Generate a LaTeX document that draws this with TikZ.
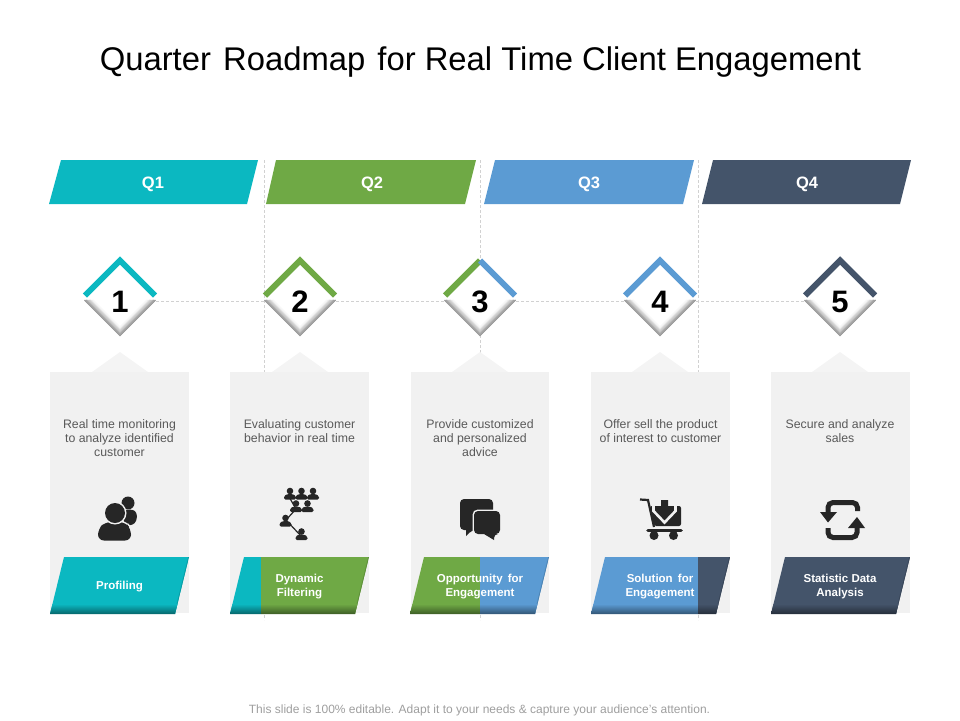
\documentclass[tikz,border=0pt]{standalone}
\usepackage{fontspec}
\setmainfont{Liberation Sans}
\usetikzlibrary{shapes.geometric}

\definecolor{tealq}{HTML}{0BB8C1}
\definecolor{greenq}{HTML}{6FA945}
\definecolor{blueq}{HTML}{5B9BD3}
\definecolor{navyq}{HTML}{44546A}
\definecolor{cardgray}{HTML}{F1F1F1}
\definecolor{icongray}{HTML}{262626}
\definecolor{bodygray}{HTML}{595959}

\tikzset{
    guide/.style={draw=black!18, line width=0.7pt, dash pattern=on 3pt off 2pt},
    qlabel/.style={text=white, font=\bfseries\fontsize{16.5}{20}\selectfont},
    numbox/.style={diamond, minimum size=72pt, inner sep=0pt, font=\bfseries\fontsize{31}{36}\selectfont},
    cardtext/.style={text=bodygray, align=center, font=\fontsize{12.3}{14}\selectfont},
    ribbontext/.style={text=white, align=center, font=\bfseries\fontsize{11.5}{14}\selectfont},
    chevron/.style={line width=6pt, line join=miter},
    halo/.style={preaction={draw=cardgray, line width=3pt}},
}

% left edge, left colour, right colour and where they meet
\newcommand{\ribbon}[4]{
    \begin{scope}
        \clip (#1+14,557) -- (#1+139,557) -- (#1+125,614) -- (#1,614) -- cycle;
        \fill[#2] (#1,557) rectangle (#4,614);
        \fill[#3] (#4,557) rectangle (#1+139,614);
        \draw[#3!85!black, line width=1.6pt] (#1+139,557) -- (#1+125,614);
        \shade[top color=#2, bottom color=#2!55!black] (#1,604) rectangle (#4,614);
        \shade[top color=#3, bottom color=#3!55!black] (#4,604) rectangle (#1+139,614);
    \end{scope}
}

\newcommand{\tinyperson}[2]{
    \fill[icongray] (#1,#2) circle (3.3);
    \fill[icongray, rounded corners=1.5pt] (#1-6,#2+8.5) -- (#1-6,#2+5) -- (#1-2.5,#2+3) -- (#1+2.5,#2+3) -- (#1+6,#2+5) -- (#1+6,#2+8.5) -- cycle;
}

\begin{document}
\begin{tikzpicture}[x=1pt, y=-1pt]
    \useasboundingbox (0,0) rectangle (960,720);

    \node (title) at (480.5,62.5) {\fontsize{32.8}{38}\selectfont Quarter\hspace{3pt} Roadmap\hspace{3pt} for Real Time Client Engagement};

    % guides behind everything
    \coordinate (g1top) at (264,160);
    \coordinate (g1bot) at (264,620);
    \coordinate (g2top) at (480,160);
    \coordinate (g2bot) at (480,620);
    \coordinate (g3top) at (698,160);
    \coordinate (g3bot) at (698,620);
    \draw[guide] (g1top)--(g1bot);
    \draw[guide] (g2top)--(g2bot);
    \draw[guide] (g3top)--(g3bot);

    % quarters
    \fill[tealq] (61,160)--(258,160)--(247,204)--(49,204)--cycle;
    \fill[greenq] (276,160)--(476,160)--(465,204)--(266,204)--cycle;
    \fill[blueq] (495,160)--(694,160)--(683,204)--(484,204)--cycle;
    \fill[navyq] (713,160)--(911,160)--(900,204)--(702,204)--cycle;
    \node[qlabel] (q1) at (153,184) {Q1};
    \node[qlabel] (q2) at (372,184) {Q2};
    \node[qlabel] (q3) at (589,184) {Q3};
    \node[qlabel] (q4) at (807,184) {Q4};

    % cards
    \foreach \left/\wide/\x in {50/139/120,230/139/300,411/138/480,591/139/660,771/139/840} {
        \fill[cardgray] (\left,372) rectangle (\left+\wide,613);
        \fill[cardgray!80!white] (\x-28,372)--(\x,352)--(\x+28,372)--cycle;
    }

    % numbers
    \foreach \i/\x in {1/120,2/300,3/480,4/660,5/840} {
        \fill[white] (\x-36,300)--(\x,264)--(\x+36,300)--(\x,336)--cycle;
        \foreach \k in {0,...,6} {
            \pgfmathsetmacro{\shadeval}{42-\k*6.5}
            \draw[black!\shadeval, line width=1.3pt] (\x-35.5+\k*1.4,300)--(\x,335.5-\k*1.4)--(\x+35.5-\k*1.4,300);
        }
        \node[numbox] (d\i) at (\x,301.5) {\i};
    }
    \draw[guide] (d1.east)--(d2.west);
    \draw[guide] (d2.east)--(d3.west);
    \draw[guide] (d3.east)--(d4.west);
    \draw[guide] (d4.east)--(d5.west);
    \draw[chevron, tealq] (85,295.5)--(120,260.5)--(155,295.5);
    \draw[chevron, greenq] (265,295.5)--(300,260.5)--(335,295.5);
    \draw[chevron, greenq] (445,295.5)--(480,260.5);
    \draw[chevron, blueq] (480,260.5)--(515,295.5);
    \draw[chevron, blueq] (625,295.5)--(660,260.5)--(695,295.5);
    \draw[chevron, navyq] (805,295.5)--(840,260.5)--(875,295.5);

    \node[cardtext] (t1) at (119.5,438) {Real time monitoring\\to analyze identified\\customer};
    \node[cardtext] (t2) at (299.5,431) {Evaluating customer\\behavior in real time};
    \node[cardtext] (t3) at (480,438) {Provide customized\\and personalized\\advice};
    \node[cardtext] (t4) at (660.5,431) {Offer sell the product\\of interest to customer};
    \node[cardtext] (t5) at (840,431) {Secure and analyze\\sales};

    % profile icon
    \fill[icongray] (128,503) circle (6.5);
    \fill[icongray, rounded corners=3pt] (120,512)--(127,509.5)--(135,510)--(137.5,516)--(135,524)--(126,526)--cycle;
    \fill[icongray, halo, rounded corners=6pt] (98,540.5)--(98,529)--(105,522)--(125,522)--(131,529)--(131,540.5)--cycle;
    \fill[icongray, halo] (115,513) circle (10);

    % filter icon
    \draw[icongray, line width=1.2pt] (288,495)--(296,509)--(286,520)--(301,536);
    \tinyperson{290}{491}
    \tinyperson{301.5}{491}
    \tinyperson{313}{491}
    \tinyperson{296}{503.5}
    \tinyperson{307.5}{503.5}
    \tinyperson{285.5}{518}
    \tinyperson{301.5}{531.5}

    % chat icon
    \fill[icongray, rounded corners=4pt] (460,499)--(493,499)--(493,530)--(472,530)[sharp corners]--(466,536)--(466,530)[rounded corners=4pt]--(460,530)--cycle;
    \fill[icongray, halo, rounded corners=4pt] (474,511)--(500,511)--(500,534)--(494,534)[sharp corners]--(494,540)--(484,534)[rounded corners=4pt]--(474,534)--cycle;

    % cart icon
    \draw[icongray, line width=2.2pt] (640,499.5)--(648,500)--(654,527);
    \fill[icongray, rounded corners=2pt] (650,506)--(681,506)--(681,526)--(654,526)--cycle;
    \draw[icongray, line width=3.6pt, line cap=round] (648,530.5)--(681,530.5);
    \fill[icongray] (654,535.5) circle (4.5);
    \fill[icongray] (673.5,535.5) circle (4.5);
    \draw[cardgray, line width=2.6pt] (653.5,505)--(653.5,511)--(664.5,522.5)--(675.5,511)--(675.5,505);
    \fill[icongray] (661,500)--(668,500)--(668,507)--(672,507)--(664.5,517)--(657,507)--(661,507)--cycle;

    % cycle icon
    \draw[icongray, line width=5pt, rounded corners=5pt] (857.5,511)--(857.5,502.5)--(828,502.5)--(828,513);
    \fill[icongray] (820,512)--(837,512)--(828,522.5)--cycle;
    \draw[icongray, line width=5pt, rounded corners=5pt] (828,528)--(828,537.5)--(857,537.5)--(857,526);
    \fill[icongray] (848,528)--(865,528)--(857,517)--cycle;

    % ribbons
    \ribbon{50}{tealq}{tealq}{189}
    \ribbon{230}{tealq}{greenq}{261}
    \ribbon{410}{greenq}{blueq}{480}
    \ribbon{591}{blueq}{navyq}{698}
    \ribbon{771}{navyq}{navyq}{910}
    \node[ribbontext] (r1) at (119.5,587) {Profiling};
    \node[ribbontext] (r2) at (299.5,587) {Dynamic\\Filtering};
    \node[ribbontext] (r3) at (480,587) {Opportunity\hspace{2pt} for\\Engagement};
    \node[ribbontext] (r4) at (660,587) {Solution\hspace{2pt} for\\Engagement};
    \node[ribbontext] (r5) at (840,587) {Statistic Data\\Analysis};

    \node[text=black!38, font=\fontsize{12}{14}\selectfont] (foot) at (479.5,710) {This slide is 100\% editable. Adapt it to your needs \& capture your audience’s attention.};
\end{tikzpicture}
\end{document}
